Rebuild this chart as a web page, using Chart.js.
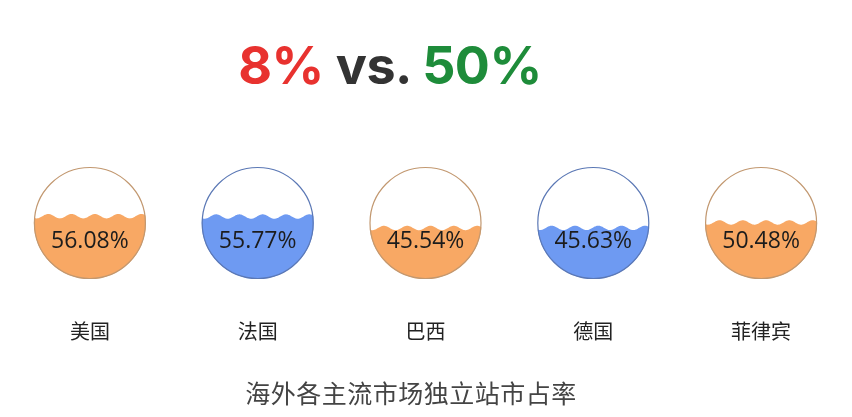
<!DOCTYPE html>
<html>
<head>
<meta charset="utf-8">
<script src="https://cdn.jsdelivr.net/npm/chart.js@4.4.1/dist/chart.umd.min.js"></script>
<style>
  html, body { margin: 0; padding: 0; background: #fff; }
  #wrap { position: relative; width: 852px; height: 417px; }
  #head { position: absolute; left: 0; top: 34px; width: 780px; text-align: center;
          font-family: "Inter", "Roboto", "Noto Sans", sans-serif; font-weight: 700;
          font-size: 52px; line-height: 64px; color: #333; z-index: 2; letter-spacing: -0.5px; }
  #head .r { color: #E8322F; }
  #head .g { color: #1E8C3A; }
  #foot { position: absolute; left: 0; top: 376px; width: 822px; text-align: center;
          font-family: "Noto Sans CJK SC", sans-serif; font-size: 25px; line-height: 32px;
          color: #444; letter-spacing: 0.5px; z-index: 2; }
  canvas { position: absolute; left: 0; top: 0; }
</style>
</head>
<body>
<div id="wrap">
  <div id="head"><span class="r">8%</span> vs. <span class="g">50%</span></div>
  <canvas id="c" width="852" height="417"></canvas>
  <div id="foot"></div>
</div>
<script>
const categories = ["美国", "法国", "巴西", "德国", "菲律宾"];
const shares = [56.08, 55.77, 45.54, 45.63, 50.48];
const fillColors = ["#F8A864", "#6E9AF2", "#F8A864", "#6E9AF2", "#F8A864"];
const borderColors = ["#C29870", "#5B78B5", "#C29870", "#5B78B5", "#C29870"];
const chartTitle = "海外各主流市场独立站市占率";

document.getElementById('foot').textContent = chartTitle;

const liquidPlugin = {
  id: 'liquid',
  afterDatasetsDraw(chart) {
    const ctx = chart.ctx;
    const y = chart.scales.y;
    const meta = chart.getDatasetMeta(0);
    const yTop = y.getPixelForValue(100);
    const yBot = y.getPixelForValue(0);
    const r = (yBot - yTop) / 2;
    const cy = (yBot + yTop) / 2;
    meta.data.forEach((el, i) => {
      const cx = el.x;
      const level = y.getPixelForValue(shares[i]);
      const amp = 2.2, lambda = 23.3;
      ctx.save();
      ctx.beginPath();
      ctx.arc(cx, cy, r, 0, Math.PI * 2);
      ctx.clip();
      ctx.beginPath();
      ctx.moveTo(cx - r - 2, yBot + 2);
      for (let x = cx - r - 2; x <= cx + r + 2; x += 0.5) {
        const yy = level + amp * (-Math.cos(2 * Math.PI * (x - cx - 5) / lambda));
        ctx.lineTo(x, yy);
      }
      ctx.lineTo(cx + r + 2, yBot + 2);
      ctx.closePath();
      ctx.fillStyle = fillColors[i];
      ctx.fill();
      ctx.restore();

      ctx.save();
      ctx.beginPath();
      ctx.arc(cx, cy, r - 0.5, 0, Math.PI * 2);
      ctx.strokeStyle = borderColors[i];
      ctx.lineWidth = 1.2;
      ctx.stroke();
      ctx.fillStyle = "#1c1c1c";
      ctx.font = '23px "Open Sans", "Noto Sans", sans-serif';
      ctx.textAlign = 'center';
      ctx.textBaseline = 'middle';
      ctx.fillText(shares[i].toFixed(2) + '%', cx, cy + 18);
      ctx.restore();
    });
  }
};

new Chart(document.getElementById('c'), {
  type: 'bar',
  data: {
    labels: categories,
    datasets: [{ data: shares, backgroundColor: 'rgba(0,0,0,0)', borderWidth: 0 }]
  },
  options: {
    responsive: false,
    animation: false,
    events: [],
    layout: { padding: { top: 167, left: 6, right: 7, bottom: 0 } },
    scales: {
      y: { display: false, min: 0, max: 100 },
      x: {
        grid: { display: false, drawTicks: false },
        border: { display: false },
        ticks: { padding: 40, color: '#222', font: { size: 20, family: '"Noto Sans CJK SC", sans-serif' } },
        afterFit(scale) { scale.height = 138; }
      }
    },
    plugins: {
      legend: { display: false },
      tooltip: { enabled: false },
      title: { display: false }
    }
  },
  plugins: [liquidPlugin]
});
</script>
</body>
</html>
